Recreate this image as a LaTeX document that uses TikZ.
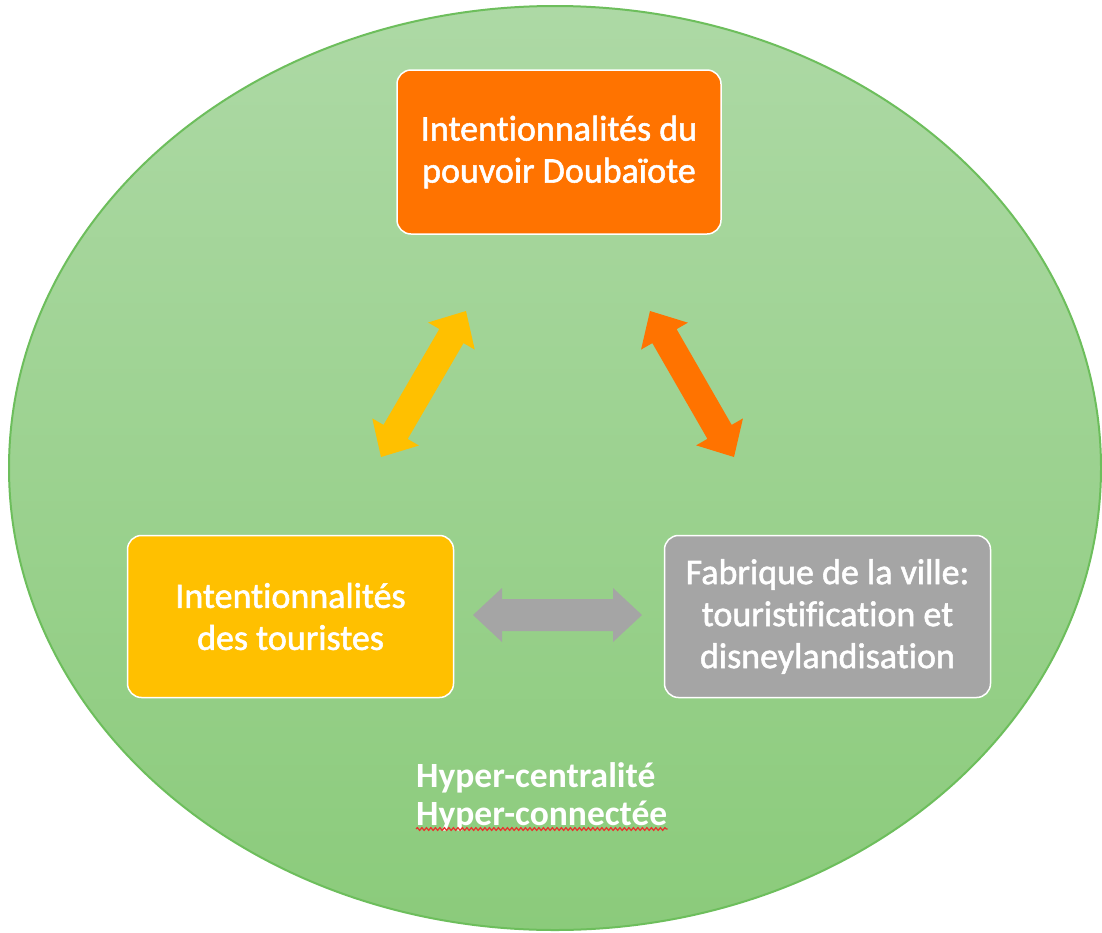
\documentclass[tikz,border=0pt]{standalone}
\usepackage{fontspec}
\setmainfont{Carlito}[Ligatures=NoCommon, Contextuals=NoAlternate]
\newfontfamily\boxfont{Carlito}[Ligatures=NoCommon, Contextuals=NoAlternate, FakeBold=1.5]
\usetikzlibrary{calc,decorations.pathmorphing}
\definecolor{gtop}{HTML}{ADD9A5}
\definecolor{gbot}{HTML}{8BCB7B}
\definecolor{gedge}{HTML}{6DBE5C}
\definecolor{orng}{HTML}{FF7300}
\definecolor{yell}{HTML}{FFC000}
\definecolor{gry}{HTML}{A5A5A5}
\definecolor{spellred}{HTML}{E8332E}
% block double arrow between named coordinates #1 and #2, colour #3, shaft half width #4
\newcommand{\blockarr}[4]{%
  \coordinate (#1h) at ($(#1)!29pt!(#2)$);
  \coordinate (#2h) at ($(#2)!29pt!(#1)$);
  \fill[#3] (#1) -- ($(#1h)!27pt!90:(#2)$) -- ($(#1h)!#4!90:(#2)$)
    -- ($(#2h)!#4!-90:(#1)$) -- ($(#2h)!27pt!-90:(#1)$) -- (#2)
    -- ($(#2h)!27pt!90:(#1)$) -- ($(#2h)!#4!90:(#1)$)
    -- ($(#1h)!#4!-90:(#2)$) -- ($(#1h)!27pt!-90:(#2)$) -- cycle;
}
\begin{document}
\begin{tikzpicture}[x=1pt,y=-1pt,
  boxstyle/.style={rounded corners=14pt, draw=white, line width=1.5pt,
    minimum width=326pt, minimum height=162pt, inner sep=0pt, align=center,
    text=white, font=\boxfont\fontsize{36}{42}\selectfont},
  hypertext/.style={anchor=base west, inner sep=0pt, text=white,
    font=\fontsize{35.5}{40}\selectfont\bfseries}]
\useasboundingbox[fill=white] (0,0) rectangle (1102,932);
% background ellipse
\shade[top color=gtop, bottom color=gbot] (555,468) ellipse [x radius=546, y radius=462];
\draw[gedge, line width=2pt] (555,468) ellipse [x radius=546, y radius=462];
% boxes
\node[boxstyle, fill=orng, minimum width=324pt, minimum height=164pt] (pouvoir) at (559,152)
  {Intentionnalités du\\pouvoir Doubaïote};
\node[boxstyle, fill=yell] (touristes) at (290.5,616.5)
  {Intentionnalités\\des touristes};
\node[boxstyle, fill=gry] (fabrique) at (827.5,616.5)
  {Fabrique de la ville:\\touristification et\\disneylandisation};
% arrow ends
\coordinate (ya) at (381,457);
\coordinate (yb) at (466,311);
\coordinate (oa) at (650,311);
\coordinate (ob) at (734,457);
\coordinate (ga) at (473,615);
\coordinate (gb) at (642,615);
\blockarr{ya}{yb}{yell}{14pt}
\blockarr{oa}{ob}{orng}{14pt}
\blockarr{ga}{gb}{gry}{16pt}
% bottom text
\node[hypertext] (hc1) at (416,787) {Hyper-centralité};
\node[hypertext] (hc2) at (416,825) {Hyper-connectée};
\draw[spellred, line width=1.3pt, decorate,
  decoration={snake, amplitude=1.3pt, segment length=4.5pt}]
  ($(hc2.base west)+(0,4)$) -- ($(hc2.base east)+(0,4)$);
\end{tikzpicture}
\end{document}
